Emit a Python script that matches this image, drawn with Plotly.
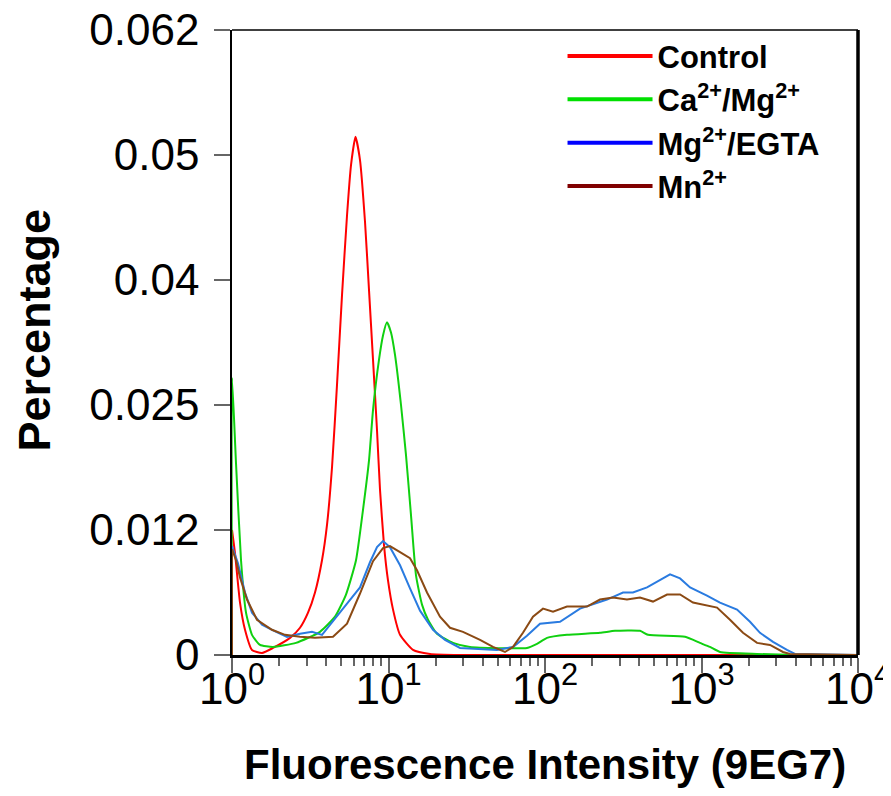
import plotly.graph_objects as go

# ---------------- data ----------------
control_x = [1.0, 1.045, 1.125, 1.211, 1.342, 1.555, 1.828, 2.348, 2.720, 3.060, 3.391, 3.759,
             4.046, 4.355, 4.687, 5.046, 5.431, 5.760, 6.153, 6.575, 7.076, 7.507, 7.962, 8.445,
             8.826, 9.359, 9.926, 10.69, 11.85, 14.34, 18.41, 28.6, 10000]
control_y = [0.0124, 0.0101, 0.0052, 0.0025, 0.0005, 0.0002, 0.0007, 0.0017, 0.0027, 0.0042, 0.0062, 0.0094,
             0.0129, 0.0186, 0.0268, 0.0357, 0.0436, 0.0486, 0.0514, 0.0491, 0.0430, 0.0362, 0.0293, 0.0223,
             0.0164, 0.0109, 0.0074, 0.0045, 0.0020, 0.0005, 0.0001, 0.0, 0.0]

camg_x = [1.0, 1.0, 1.061, 1.142, 1.229, 1.342, 1.510, 1.828, 2.564, 3.650, 4.551, 5.351, 6.200,
          6.872, 7.507, 7.962, 8.697, 9.224, 9.781, 10.375, 11.00, 12.02, 12.94, 13.92, 14.99,
          16.37, 17.88, 20.42, 25.83, 33.17, 76.7, 88.9, 103.0, 138.2, 224.5, 280.0, 404.6,
          455.3, 784.6, 977.5, 1132, 1312, 2264, 4259, 10000]
camg_y = [0.0, 0.0275, 0.0190, 0.0094, 0.0042, 0.0020, 0.0010, 0.0008, 0.0012, 0.0023, 0.0038, 0.0060, 0.0094,
          0.0144, 0.0193, 0.0243, 0.0293, 0.0317, 0.0330, 0.0320, 0.0298, 0.0248, 0.0198, 0.0139, 0.0079,
          0.0050, 0.0035, 0.0021, 0.0012, 0.0008, 0.0007, 0.0011, 0.0017, 0.0020, 0.0022, 0.0024, 0.0024,
          0.0020, 0.0018, 0.0012, 0.0008, 0.0003, 0.0001, 0.0, 0.0]

mgegta_x = [1.0, 1.0, 1.092, 1.211, 1.342, 1.555, 1.801, 2.246, 2.720, 3.245, 3.759, 4.420, 5.431,
            6.575, 7.615, 8.445, 9.224, 10.22, 11.85, 13.72, 15.90, 19.25, 22.96, 28.64, 49.35,
            62.46, 76.7, 92.9, 124.7, 167.4, 202.8, 249.0, 315.0, 364.8, 448.7, 543.3, 629.4,
            729.4, 845.3, 1084, 1312, 1687, 2042, 2365, 2864, 3516, 3958, 10000]
mgegta_y = [0.0, 0.0108, 0.0091, 0.0062, 0.0042, 0.0030, 0.0025, 0.0018, 0.0021, 0.0023, 0.0020, 0.0034, 0.0051,
            0.0067, 0.0092, 0.0107, 0.0113, 0.0107, 0.0089, 0.0066, 0.0044, 0.0025, 0.0015, 0.0007, 0.0005,
            0.0008, 0.0019, 0.0031, 0.0033, 0.0046, 0.0050, 0.0055, 0.0062, 0.0062, 0.0067, 0.0074, 0.0080,
            0.0076, 0.0067, 0.0059, 0.0052, 0.0045, 0.0033, 0.0022, 0.0013, 0.0005, 0.0001, 0.0]

mn_x = [1.0, 1.0, 1.061, 1.125, 1.247, 1.444, 1.801, 2.182, 2.720, 3.391, 4.420, 5.431, 6.575,
        7.962, 9.224, 10.22, 11.85, 13.72, 15.21, 17.62, 21.33, 24.72, 29.93, 38.46, 46.53,
        55.48, 62.46, 72.3, 83.8, 97.1, 112.5, 138.2, 185.5, 224.5, 272.0, 334.0, 404.6,
        489.8, 602.6, 729.4, 882.3, 1257, 1521, 1841, 2264, 2740, 3316, 3675, 10000]
mn_y = [0.0, 0.0105, 0.0094, 0.0077, 0.0055, 0.0035, 0.0025, 0.0020, 0.0018, 0.0017, 0.0018, 0.0031, 0.0061,
        0.0093, 0.0106, 0.0108, 0.0102, 0.0096, 0.0084, 0.0062, 0.0038, 0.0027, 0.0023, 0.0015, 0.0008,
        0.0003, 0.0008, 0.0022, 0.0038, 0.0046, 0.0043, 0.0048, 0.0048, 0.0055, 0.0057, 0.0055, 0.0057,
        0.0053, 0.0060, 0.0060, 0.0052, 0.0047, 0.0035, 0.0022, 0.0012, 0.0010, 0.0003, 0.0001, 0.0]

legend_names = ["Control", "Ca<sup>2+</sup>/Mg<sup>2+</sup>", "Mg<sup>2+</sup>/EGTA", "Mn<sup>2+</sup>"]
legend_colors = ["#FF0000", "#00E000", "#0000FF", "#800000"]
line_colors = ["#FF0000", "#10D010", "#2A7BE0", "#8B4A14"]

x_tick_vals = [1, 10, 100, 1000, 10000]
x_tick_text = ["10<sup>0</sup>", "10<sup>1</sup>", "10<sup>2</sup>", "10<sup>3</sup>", "10<sup>4</sup>"]
x_minor_vals = [m * d for d in [1, 10, 100, 1000] for m in range(2, 10)]
y_tick_vals = [0, 0.0124, 0.0248, 0.0372, 0.0496, 0.062]
y_tick_text = ["0", "0.012", "0.025", "0.04", "0.05", "0.062"]

FONT = "Liberation Sans, Arial, sans-serif"

fig = go.Figure()
series = [(control_x, control_y, "spline"), (camg_x, camg_y, "spline"),
          (mgegta_x, mgegta_y, "linear"), (mn_x, mn_y, "linear")]
for (xs, ys, shp), col in zip(series, line_colors):
    fig.add_trace(go.Scatter(x=xs, y=ys, mode="lines", showlegend=False,
                             line=dict(color=col, width=2, shape=shp, smoothing=0.5)))
for name, col in zip(legend_names, legend_colors):
    fig.add_trace(go.Scatter(x=[None], y=[None], mode="lines", name=name,
                             line=dict(color=col, width=4)))

# page has an 8px body margin, so the figure is 16px smaller than the window
fig.update_layout(
    width=875, height=780,
    margin=dict(l=224, r=25, t=22, b=133, autoexpand=False),
    paper_bgcolor="white", plot_bgcolor="white",
    font=dict(family=FONT, color="black"),
    legend=dict(x=0.528, y=1.001, xanchor="left", yanchor="top",
                bgcolor="rgba(0,0,0,0)", itemwidth=85, tracegroupgap=0,
                font=dict(family=FONT, size=31, weight="bold", color="black")),
    xaxis=dict(type="log", range=[0, 4], tickmode="array", tickvals=x_tick_vals, ticktext=x_tick_text,
               ticks="outside", ticklen=15, tickcolor="#666", tickwidth=1.5,
               minor=dict(tickmode="array", tickvals=x_minor_vals, ticks="outside", ticklen=8,
                          tickcolor="#666", tickwidth=1.5, showgrid=False),
               showline=True, linecolor="black", linewidth=3, automargin=False,
               showgrid=False, zeroline=False, ticklabeloverflow="allow",
               tickfont=dict(size=44, family=FONT)),
    yaxis=dict(range=[0, 0.062], tickmode="array", tickvals=y_tick_vals, ticktext=y_tick_text,
               ticks="outside", ticklen=16, tickcolor="#666", tickwidth=1.5,
               showline=True, linecolor="black", linewidth=1.5, automargin=False,
               showgrid=False, zeroline=False, ticklabeloverflow="allow",
               tickfont=dict(size=44, family=FONT)),
)
try:
    fig.update_layout(xaxis_ticklabelstandoff=-22, yaxis_ticklabelstandoff=6)
except Exception:
    pass

# frame: thin top, thick right
fig.add_shape(type="line", xref="paper", yref="paper", x0=0, x1=1, y0=1, y1=1,
              line=dict(color="black", width=1.5))
fig.add_shape(type="line", xref="paper", yref="paper", x0=1, x1=1, y0=0, y1=1,
              line=dict(color="black", width=3.5))

fig.add_annotation(text="<b>Percentage</b>", xref="paper", yref="paper", x=-0.317, y=0.52,
                   xanchor="center", yanchor="middle",
                   textangle=-90, showarrow=False, font=dict(family=FONT, size=45, color="black"))
fig.add_annotation(text="<b>Fluorescence Intensity (9EG7)</b>", xref="paper", yref="paper",
                   x=0.5, y=-0.216, xanchor="center", yanchor="bottom",
                   showarrow=False, font=dict(family=FONT, size=42, color="black"))

fig.write_html("out.html")
